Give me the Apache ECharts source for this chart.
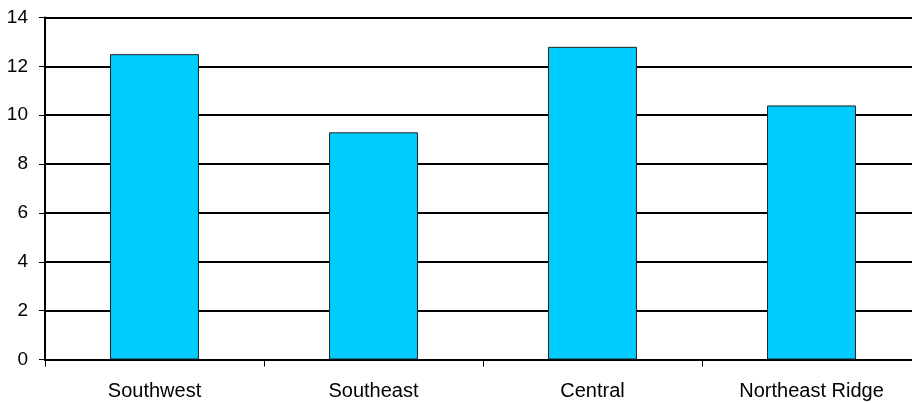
<!DOCTYPE html>
<html><head><meta charset="utf-8">
<script src="https://cdn.jsdelivr.net/npm/echarts@6/dist/echarts.min.js"></script>
<style>html,body{margin:0;padding:0;background:#fff}#c{width:912px;height:403px}</style>
</head><body><div id="c"></div>
<script>
const categories = ["Southwest", "Southeast", "Central", "Northeast Ridge"];
const values = [12.5, 9.3, 12.8, 10.4];
const yTicks = [0, 2, 4, 6, 8, 10, 12, 14];

const chart = echarts.init(document.getElementById('c'), null, {renderer: 'canvas'});
chart.setOption({
  animation: false,
  grid: {left: 45, right: -9, top: 17.5, bottom: 43.5, containLabel: false, outerBoundsMode: 'none'},
  xAxis: {
    type: 'category',
    data: categories,
    axisLine: {lineStyle: {color: '#000', width: 2}},
    axisTick: {show: true, length: 7, lineStyle: {color: '#000', width: 1}, alignWithLabel: false},
    axisLabel: {color: '#000', fontFamily: 'Liberation Sans, Arial, sans-serif', fontSize: 20, margin: 22},
    splitLine: {show: false}
  },
  yAxis: {
    type: 'value',
    min: yTicks[0], max: yTicks[yTicks.length - 1], interval: 2,
    axisLine: {show: true, lineStyle: {color: '#000', width: 2}},
    axisTick: {show: true, length: 6, lineStyle: {color: '#000', width: 1}},
    axisLabel: {color: '#000', fontFamily: 'Liberation Sans, Arial, sans-serif', fontSize: 19, margin: 17},
    splitLine: {show: true, lineStyle: {color: '#000', width: 2}}
  },
  series: [{
    type: 'bar',
    data: values,
    barWidth: '40.6%',
    itemStyle: {color: '#00CCFF', borderColor: '#222', borderWidth: 1}
  }]
});
</script></body></html>
